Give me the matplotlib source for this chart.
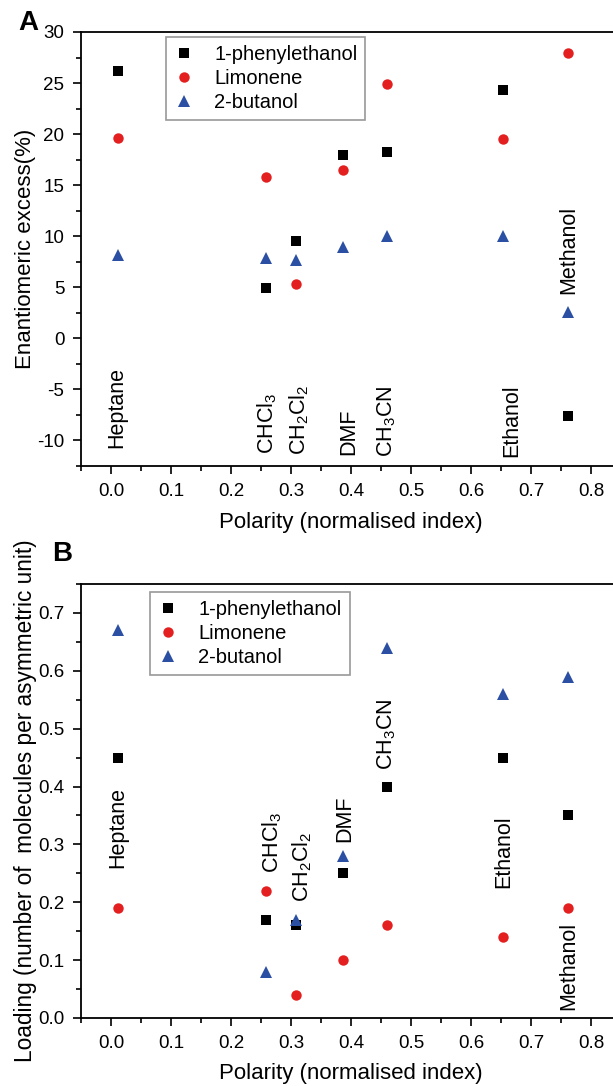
import matplotlib
matplotlib.use("Agg")
import matplotlib.pyplot as plt

plt.rcParams['font.family'] = ['Liberation Sans', 'DejaVu Sans']
plt.rcParams['mathtext.default'] = 'regular'
plt.rcParams['axes.unicode_minus'] = False

# polarity (normalised index) of each solvent
solvents = ['Heptane', 'CHCl$_3$', 'CH$_2$Cl$_2$', 'DMF', 'CH$_3$CN', 'Ethanol', 'Methanol']
polarity = [0.012, 0.259, 0.309, 0.386, 0.460, 0.654, 0.762]

# panel A: enantiomeric excess (%)
ee_phenylethanol = [26.2, 4.9, 9.5, 18.0, 18.2, 24.3, -7.6]
ee_limonene = [19.6, 15.8, 5.3, 16.5, 24.9, 19.5, 27.9]
ee_butanol = [8.2, 7.9, 7.7, 8.9, 10.0, 10.0, 2.6]

# panel B: loading (molecules per asymmetric unit)
load_phenylethanol = [0.45, 0.17, 0.16, 0.25, 0.40, 0.45, 0.35]
load_limonene = [0.19, 0.22, 0.04, 0.10, 0.16, 0.14, 0.19]
load_butanol = [0.67, 0.08, 0.17, 0.28, 0.64, 0.56, 0.59]

# where the solvent names sit (x, y of the bottom of the rotated text)
label_x_a = [0.009, 0.260, 0.313, 0.397, 0.460, 0.668, 0.763]
label_y_a = [-10.7, -11.3, -11.4, -11.4, -11.6, -11.6, 4.3]
label_x_b = [0.012, 0.268, 0.318, 0.390, 0.460, 0.655, 0.763]
label_y_b = [0.259, 0.250, 0.201, 0.305, 0.429, 0.224, 0.013]

series_names = ['1-phenylethanol', 'Limonene', '2-butanol']
colors = ['black', '#e3201f', '#2a4fa3']
markers = ['s', 'o', '^']
msizes = [6.5, 7.5, 8]

W, H = 613, 1086
fig = plt.figure(figsize=(W / 100, H / 100), dpi=100)

# right spine sits just outside the picture, as in the cropped original
ax_left = 81 / W
ax_width = 540 / W
ax_a = fig.add_axes([ax_left, 1 - 466 / H, ax_width, 434 / H])
ax_b = fig.add_axes([ax_left, 1 - 1018 / H, ax_width, 434 / H])


def style_axis(ax):
    ax.set_xlim(-0.05, 0.85)
    ax.set_xticks([0.0, 0.1, 0.2, 0.3, 0.4, 0.5, 0.6, 0.7, 0.8])
    ax.set_xticks([-0.05, 0.05, 0.15, 0.25, 0.35, 0.45, 0.55, 0.65, 0.75], minor=True)
    ax.tick_params(which='major', direction='out', length=6, width=1.2, labelsize=13.5, pad=6)
    ax.tick_params(which='minor', direction='out', length=3.5, width=1.2)
    ax.tick_params(top=False, right=False)
    for s in ax.spines.values():
        s.set_linewidth(1.3)
    ax.set_xlabel('Polarity (normalised index)', fontsize=16)
    ax.xaxis.label.set_va('center')
    ax.yaxis.label.set_va('center')


data_a = [ee_phenylethanol, ee_limonene, ee_butanol]
data_b = [load_phenylethanol, load_limonene, load_butanol]

for ax, data in [(ax_a, data_a), (ax_b, data_b)]:
    for vals, name, c, m, ms in zip(data, series_names, colors, markers, msizes):
        ax.plot(polarity, vals, linestyle='none', marker=m, color=c, markersize=ms,
                markeredgewidth=0, label=name)
    style_axis(ax)

# panel A
ax_a.set_ylim(-12.5, 30)
ax_a.set_yticks(range(-10, 31, 5))
ax_a.set_yticks([-12.5, -7.5, -2.5, 2.5, 7.5, 12.5, 17.5, 22.5, 27.5], minor=True)
ax_a.set_ylabel('Enantiomeric excess(%)', fontsize=16)
ax_a.yaxis.set_label_coords(-0.102, 0.5)
ax_a.xaxis.set_label_coords(0.5, -0.131)
for name, x, y in zip(solvents, label_x_a, label_y_a):
    ax_a.text(x, y, name, rotation=90, ha='center', va='bottom', fontsize=15.5)

# panel B
ax_b.set_ylim(0, 0.75)
ax_b.set_yticks([0.0, 0.1, 0.2, 0.3, 0.4, 0.5, 0.6, 0.7])
ax_b.set_yticks([0.05, 0.15, 0.25, 0.35, 0.45, 0.55, 0.65, 0.75], minor=True)
ax_b.set_ylabel('Loading (number of  molecules per asymmetric unit)', fontsize=16.3)
ax_b.yaxis.set_label_coords(-0.102, 0.5)
ax_b.xaxis.set_label_coords(0.5, -0.127)
for name, x, y in zip(solvents, label_x_b, label_y_b):
    ax_b.text(x, y, name, rotation=90, ha='center', va='bottom', fontsize=15.5)

# legends
for ax, anchor in [(ax_a, (0.157, 0.988)), (ax_b, (0.128, 0.982))]:
    leg = ax.legend(loc='upper left', bbox_to_anchor=anchor, borderaxespad=0,
                    fontsize=14.5, frameon=True, fancybox=False, handlelength=1.0,
                    handletextpad=1.0, borderpad=0.4, labelspacing=0.25)
    leg.get_frame().set_edgecolor('#7f7f7f')
    leg.get_frame().set_linewidth(1.2)

# panel letters
fig.text(28 / W, 1 - 23 / H, 'A', fontsize=20, fontweight='bold', ha='center', va='center')
fig.text(62 / W, 1 - 554 / H, 'B', fontsize=20, fontweight='bold', ha='center', va='center')

fig.savefig('out.png', dpi=100)
